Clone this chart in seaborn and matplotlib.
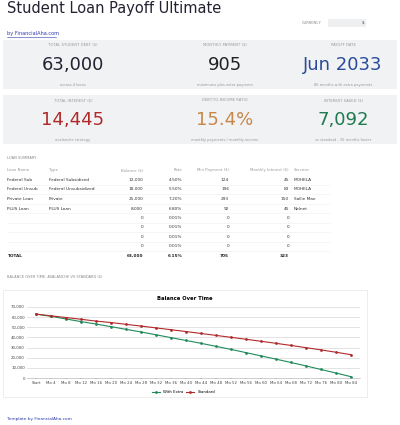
import matplotlib
matplotlib.use("Agg")
import matplotlib.pyplot as plt
import seaborn as sns
import pandas as pd
from matplotlib.patches import Rectangle

# balance chart data
months = ["Start"] + [f"Mo {m}" for m in range(4, 88, 4)]
with_extra = [63000, 60800, 58200, 55600, 53200, 50600, 48000, 45400, 42600, 39800, 37000,
              34200, 31200, 28200, 25000, 21800, 18600, 15300, 11900, 8400, 4900, 1300]
standard = [63000, 61300, 59600, 57900, 56100, 54700, 52900, 51200, 49400, 47600, 45800,
            43900, 42000, 40100, 38200, 36200, 34200, 32100, 29900, 27700, 25400, 23000]

# KPI cards
card_labels = ["TOTAL STUDENT DEBT ($)", "MONTHLY PAYMENT ($)", "PAYOFF DATE",
               "TOTAL INTEREST ($)", "DEBT-TO-INCOME RATIO", "INTEREST SAVED ($)"]
card_values = ["63,000", "905", "Jun 2033", "14,445", "15.4%", "7,092"]
card_notes = ["across 4 loans", "minimums plus extra payment", "86 months with extra payments",
              "avalanche strategy", "monthly payments / monthly income", "vs standard - 35 months faster"]
card_colors = ["#222233", "#222222", "#2a4a9a", "#b02a2a", "#c8874a", "#1f7a4f"]

# loan table
table_header = ["Loan Name", "Type", "Balance ($)", "Rate", "Min Payment ($)", "Monthly Interest ($)", "Servicer"]
loan_names = ["Federal Sub", "Federal Unsub", "Private Loan", "PLUS Loan", "", "", "", ""]
loan_types = ["Federal Subsidized", "Federal Unsubsidized", "Private", "PLUS Loan", "", "", "", ""]
balances = ["12,000", "18,000", "25,000", "8,000", "0", "0", "0", "0"]
rates = ["4.50%", "5.50%", "7.20%", "6.80%", "0.01%", "0.01%", "0.01%", "0.01%"]
min_pay = ["124", "196", "293", "92", "0", "0", "0", "0"]
interest = ["45", "83", "150", "45", "0", "0", "0", "0"]
servicers = ["MOHELA", "MOHELA", "Sallie Mae", "Nelnet", "", "", "", ""]
totals = ["TOTAL", "", "63,000", "6.15%", "705", "323", ""]

W, H = 400, 425
fig = plt.figure(figsize=(4, 4.25), dpi=100)

def fx(x):
    return x / W

def fy(y):
    return 1 - y / H

def txt(x, y, s, **kw):
    kw.setdefault("va", "center")
    fig.text(fx(x), fy(y), s, **kw)

def rect(x, y, w, h, **kw):
    fig.patches.append(Rectangle((fx(x), fy(y + h)), w / W, h / H, transform=fig.transFigure,
                                 zorder=-1, **kw))

txt(7, 9, "Student Loan Payoff Ultimate", fontsize=10.5, color="#222233")
txt(302, 23, "CURRENCY", fontsize=2.6, color="#888888")
rect(328, 19, 38, 8, facecolor="#eeeff1", edgecolor="none")
txt(364, 23, "$", fontsize=3, color="#333333", ha="right")
txt(7, 34, "by FinancialAha.com", fontsize=3.6, color="#2a3ab0")
fig.add_artist(plt.Line2D([fx(7), fx(56)], [fy(36.5), fy(36.5)], color="#2a3ab0", lw=0.4))

col_x = [73, 225, 343]
for r in range(2):
    top = 40 + r * 55
    rect(3, top, 394, 49, facecolor="#f1f2f4", edgecolor="none")
    for c in range(3):
        i = r * 3 + c
        txt(col_x[c], top + 5, card_labels[i], fontsize=2.7, color="#999999", ha="center")
        txt(col_x[c], top + 25, card_values[i], fontsize=13, color=card_colors[i], ha="center")
        txt(col_x[c], top + 45, card_notes[i], fontsize=2.6, color="#999999", ha="center")

txt(7, 158, "LOAN SUMMARY", fontsize=2.6, color="#888888")
xs = [7, 49, 143, 182, 229, 289, 294]
align = ["left", "left", "right", "right", "right", "right", "left"]
for j, h in enumerate(table_header):
    txt(xs[j], 170, h, fontsize=2.8, color="#999999", ha=align[j])
rows = list(zip(loan_names, loan_types, balances, rates, min_pay, interest, servicers))
for i, row in enumerate(rows):
    y = 180 + i * 9.5
    for j, v in enumerate(row):
        txt(xs[j], y, v, fontsize=3.1, color="#333333", ha=align[j])
    fig.add_artist(plt.Line2D([fx(7), fx(330)], [fy(y + 4.7)] * 2, color="#eeeeee", lw=0.4))
for j, v in enumerate(totals):
    txt(xs[j], 256, v, fontsize=3.1, color="#222222", ha=align[j], fontweight="bold")

txt(7, 277, "BALANCE OVER TIME: AVALANCHE VS STANDARD ($)", fontsize=2.6, color="#888888")
rect(3, 290, 364, 107, facecolor="white", edgecolor="#e6e6e6", lw=0.5)
txt(185, 299, "Balance Over Time", fontsize=3.8, fontweight="bold", ha="center")
txt(7, 419, "Template by FinancialAha.com", fontsize=3.1, color="#2a3ab0")

df = pd.DataFrame({"Month": months * 2,
                   "Balance": with_extra + standard,
                   "Series": ["With Extra"] * len(months) + ["Standard"] * len(months)})
ax = fig.add_axes([fx(27), fy(378), (360 - 27) / W, (378 - 307) / H])
ax.set_zorder(2)
ax.patch.set_alpha(0)
sns.lineplot(data=df, x="Month", y="Balance", hue="Series", palette=["#1f8a5a", "#b02a2a"],
             marker="o", markersize=2, markeredgewidth=0, lw=0.8, ax=ax, sort=False)
ax.set_ylim(0, 70000)
ax.set_yticks(range(0, 70001, 10000))
ax.set_yticklabels([f"{v:,}" for v in range(0, 70001, 10000)])
ax.set_xlim(-0.6, len(months) - 0.4)
ax.grid(axis="y", color="#d8d8d8", lw=0.5)
ax.set_axisbelow(True)
for s in ["top", "right", "left"]:
    ax.spines[s].set_visible(False)
ax.spines["bottom"].set_color("#aaaaaa")
ax.spines["bottom"].set_linewidth(0.4)
ax.tick_params(labelsize=2.8, length=1, width=0.3, colors="#444444", pad=1.5)
ax.tick_params(axis="y", length=0)
ax.set_xlabel("")
ax.set_ylabel("")
ax.legend(loc="upper center", bbox_to_anchor=(0.47, -0.12), ncol=2, frameon=False,
          fontsize=2.8, handlelength=2, columnspacing=0.8, title=None)

fig.savefig("out.png", dpi=100)
